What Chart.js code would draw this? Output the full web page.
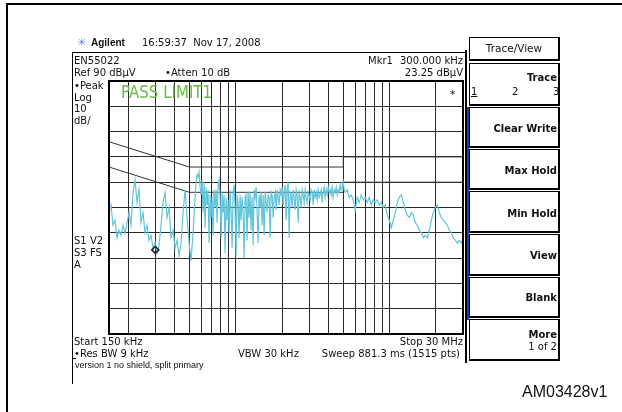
<!DOCTYPE html>
<html>
<head>
<meta charset="utf-8">
<script src="https://cdn.jsdelivr.net/npm/chart.js@4"></script>
<style>
body { margin:0; width:622px; height:412px; position:relative; overflow:hidden; background:#fff; }
#wrap { position:absolute; left:0; top:0; width:622px; height:412px; }
.t { position:absolute; white-space:nowrap; font-family:"DejaVu Sans",sans-serif; font-size:10px; line-height:12px; color:#111; }
.r { text-align:right; }
.ln { position:absolute; background:#000; }
.key { position:absolute; left:469px; width:91px; box-sizing:border-box; border:1px solid #000; border-right-width:2px; border-bottom-width:2px; background:#fff; }
.key .lbl { position:absolute; right:1px; font-family:"DejaVu Sans",sans-serif; font-weight:bold; font-size:10px; line-height:12px; color:#111; }
</style>
</head>
<body>
<div id="wrap"><canvas id="grafico"></canvas></div>

<!-- moldura externa -->
<div class="ln" style="left:6px;top:3px;width:2px;height:409px"></div>
<div class="ln" style="left:6px;top:3px;width:616px;height:2px"></div>

<!-- moldura da tela do analisador -->
<div class="ln" style="left:72px;top:52px;width:394px;height:1px"></div>
<div class="ln" style="left:72px;top:52px;width:1px;height:332px"></div>
<div class="ln" style="left:72px;top:358px;width:4px;height:1px"></div>
<div class="ln" style="left:465px;top:50px;width:2px;height:313px"></div>
<div class="ln" style="left:467px;top:107px;width:2px;height:213px;background:#1f3c9c"></div>

<!-- cabeçalho -->
<div class="t" style="left:77px;top:37px;color:#5b7fd6;font-size:11px">✳</div>
<div class="t" style="left:91px;top:37px;font-family:'Liberation Sans',Arial,sans-serif;font-weight:bold;font-size:10px">Agilent</div>
<div class="t" style="left:142px;top:37px">16:59:37&nbsp; Nov 17, 2008</div>
<div class="t" style="left:74px;top:55px">EN55022</div>
<div class="t" style="left:74px;top:67px">Ref 90 dBµV</div>
<div class="t" style="left:165px;top:67px">•Atten 10 dB</div>
<div class="t" style="left:368px;top:55px">Mkr1</div>
<div class="t r" style="right:159px;top:55px">300.000 kHz</div>
<div class="t r" style="right:159px;top:67px">23.25 dBµV</div>
<div class="t" style="left:74px;top:80px">•Peak</div>
<div class="t" style="left:74px;top:92px">Log</div>
<div class="t" style="left:74px;top:103px">10</div>
<div class="t" style="left:74px;top:115px">dB/</div>
<div class="t" style="left:74px;top:235px">S1 V2</div>
<div class="t" style="left:74px;top:247px">S3 FS</div>
<div class="t" style="left:74px;top:259px">A</div>
<div class="t" style="left:121px;top:82px;font-size:15px;line-height:16px;color:#66bb44;transform:scaleY(1.2);transform-origin:left top">PASS LIMIT1</div>
<div class="t" style="left:450px;top:89px;font-size:11px">*</div>

<!-- rodapé -->
<div class="t" style="left:74px;top:336px">Start 150 kHz</div>
<div class="t r" style="right:159px;top:336px">Stop 30 MHz</div>
<div class="t" style="left:74px;top:348px">•Res BW 9 kHz</div>
<div class="t" style="left:238px;top:348px">VBW 30 kHz</div>
<div class="t r" style="right:162px;top:348px">Sweep 881.3 ms (1515 pts)</div>
<div class="t" style="left:75px;top:359px;font-family:'Liberation Sans',Arial,sans-serif;font-size:9px">version 1 no shield, split primary</div>
<div class="t" style="left:522px;top:383px;font-family:'Liberation Sans',Arial,sans-serif;font-size:16px;line-height:18px">AM03428v1</div>

<!-- teclas -->
<div class="key" style="top:37px;height:24px"><div class="t" style="left:0;right:0;top:4px;text-align:center;font-size:10.5px">Trace/View</div></div>
<div class="key" style="top:63px;height:43px"><div class="lbl" style="top:8px">Trace</div>
  <div class="t" style="left:1px;top:22px;text-decoration:underline">1</div>
  <div class="t" style="left:42px;top:22px">2</div>
  <div class="t" style="left:83px;top:22px">3</div></div>
<div class="key" style="top:107px;height:41px"><div class="lbl" style="top:15px">Clear Write</div></div>
<div class="key" style="top:149px;height:41px"><div class="lbl" style="top:15px">Max Hold</div></div>
<div class="key" style="top:191px;height:42px"><div class="lbl" style="top:16px">Min Hold</div></div>
<div class="key" style="top:234px;height:42px"><div class="lbl" style="top:15px">View</div></div>
<div class="key" style="top:277px;height:41px"><div class="lbl" style="top:14px">Blank</div></div>
<div class="key" style="top:319px;height:42px"><div class="lbl" style="top:9px">More</div>
  <div class="t r" style="right:1px;top:21px">1 of 2</div></div>

<script>
// varredura (MHz) e nível medido (dBµV)
const freqMHz = [
  0.1500,0.1546,0.1592,0.1641,0.1691,0.1742,0.1795,0.1850,0.1906,0.1964,
  0.2024,0.2085,0.2149,0.2214,0.2281,0.2351,0.2422,0.2496,0.2572,0.2650,
  0.2731,0.2814,0.2899,0.2988,0.3078,0.3172,0.3268,0.3368,0.3470,0.3576,
  0.3684,0.3796,0.3912,0.4031,0.4153,0.4280,0.4410,0.4544,0.4682,0.4825,
  0.4971,0.5123,0.5278,
  0.5439,0.5521,0.5604,0.5689,0.5775,0.5862,0.5950,0.6040,0.6131,0.6224,
  0.6318,0.6413,0.6510,0.6608,0.6708,0.6809,0.6912,0.7016,0.7122,0.7230,
  0.7339,0.7450,0.7562,0.7676,0.7792,0.7910,0.8029,0.8150,0.8273,0.8398,
  0.8525,0.8654,0.8784,0.8917,0.9051,0.9188,0.9327,0.9467,0.9610,0.9755,
  0.9903,1.005,1.020,1.035,1.051,1.067,1.083,1.099,1.116,1.133,
  1.150,1.167,1.185,1.203,1.221,1.239,1.258,1.277,1.297,1.316,
  1.336,1.356,1.377,1.398,1.419,1.440,1.462,1.484,1.506,1.529,
  1.552,1.575,1.599,1.623,1.648,1.673,1.698,1.724,1.750,1.776,
  1.803,1.830,1.858,1.886,1.914,1.943,1.973,2.003,2.033,2.063,
  2.094,2.126,2.158,2.191,2.224,2.257,2.291,2.326,2.361,2.397,
  2.433,2.470,2.507,2.545,2.583,2.622,2.662,2.702,2.743,2.784,
  2.826,2.869,2.912,2.956,3.001,3.046,3.092,3.139,3.186,3.234,
  3.283,3.333,3.383,3.434,3.486,3.539,3.592,3.646,3.701,3.757,
  3.814,3.872,3.930,3.989,4.049,4.110,4.172,4.235,4.299,4.364,
  4.430,4.497,4.565,4.634,4.704,4.775,4.847,4.920,4.994,5.069,
  5.146,
  5.303,5.464,5.630,5.801,5.978,6.160,6.347,6.540,6.739,6.944,7.156,
  7.373,7.598,7.829,8.067,8.312,8.565,8.826,9.094,9.371,9.656,
  9.949,10.25,10.56,10.89,11.22,11.56,11.91,12.27,12.65,13.03,
  13.43,13.84,14.26,14.69,15.14,15.60,16.07,16.56,17.07,17.59,
  18.12,18.67,19.24,19.82,20.43,21.05,21.69,22.35,23.03,23.73,
  24.45,25.19,25.96,26.75,27.56,28.40,29.26,30.00
];
const nivelDbuv = [
  38,41,33,35,28,31,29,33,30,34,
  38,33,46,51,42,47,34,38,30,33,
  27,29,24,26,22,25,33,42,46,36,
  40,28,31,24,27,21,26,38,47,36,
  26,19,30,
  44,50,53,52,54,48,45,51,38,50,
  32,48,41,47,26,45,36,44,29,47,
  40,47,34,49,51,44,28,46,38,45,
  22,44,35,43,30,47,38,24,46,49,
  40,21,45,42,28,45,35,44,38,20,
  44,45,27,46,36,46,31,44,25,47,
  44,48,38,26,45,40,46,33,45,29,
  46,42,38,45,44,28,46,45,36,44,
  46,39,47,44,41,47,45,48,41,46,
  49,35,47,50,28,46,45,40,47,44,
  39,47,45,34,46,44,40,47,45,42,
  47,44,42,46,45,43,47,46,41,47,
  44,46,43,47,44,45,47,42,46,48,
  44,47,45,48,46,47,45,48,44,47,
  46,48,45,47,46,49,47,48,50,47,
  46,
  47,44,45,43,39,44,42,45,43,44,42,
  44,41,43,42,43,41,42,40,41,37,
  35,32,35,38,42,44,45,42,39,37,
  36,38,37,34,33,31,30,28,29,28,
  31,35,38,40,41,38,36,35,34,33,
  31,30,28,27,26,27,26,28
];

// limites EN55022 classe B (QP e AV)
const limiteFreq = [0.15, 0.5, 5, 5, 30];
const limiteQP = [66, 56, 56, 60, 60];
const limiteAV = [56, 46, 46, 50, 50];

// marcador 1
const mkrFreq = [0.3];
const mkrNivel = [23.25];

// linhas verticais da grade (MHz)
const gradeFreq = [0.2,0.3,0.4,0.5,0.6,0.7,0.8,0.9,1,2,3,4,5,6,7,8,9,10,20];

const pares = (xs, ys) => xs.map((x, i) => ({ x: x, y: ys[i] }));

// moldura grossa do gráfico
const moldura = {
  id: 'moldura',
  afterDraw(chart) {
    const a = chart.chartArea, c = chart.ctx;
    c.save();
    c.strokeStyle = '#000';
    c.lineWidth = 2;
    c.strokeRect(a.left, a.top, a.right - a.left, a.bottom - a.top);
    c.restore();
  }
};

const ctx = document.getElementById('grafico').getContext('2d');
new Chart(ctx, {
  type: 'line',
  data: {
    datasets: [
      {
        label: 'Marcador',
        data: pares(mkrFreq, mkrNivel),
        showLine: false,
        pointStyle: 'rectRot',
        pointRadius: 3.5,
        pointBorderColor: '#222',
        pointBackgroundColor: 'rgba(255,255,255,0)',
        pointBorderWidth: 1.5,
        order: 0
      },
      {
        label: 'Traço 1',
        data: pares(freqMHz, nivelDbuv),
        borderColor: '#63c5d9',
        borderWidth: 1.2,
        pointRadius: 0,
        tension: 0,
        order: 1
      },
      {
        label: 'Limite QP',
        data: pares(limiteFreq, limiteQP),
        borderColor: '#333',
        borderWidth: 1,
        pointRadius: 0,
        order: 2
      },
      {
        label: 'Limite AV',
        data: pares(limiteFreq, limiteAV),
        borderColor: '#333',
        borderWidth: 1,
        pointRadius: 0,
        order: 2
      }
    ]
  },
  options: {
    responsive: true,
    maintainAspectRatio: false,
    animation: false,
    layout: { padding: { left: 109, top: 81, right: 159, bottom: 78 } },
    plugins: { legend: { display: false }, tooltip: { enabled: false } },
    scales: {
      x: {
        type: 'logarithmic',
        min: 0.15,
        max: 30,
        afterBuildTicks: (axis) => { axis.ticks = gradeFreq.map(v => ({ value: v })); },
        ticks: { display: false },
        grid: { color: '#2a2a2a', lineWidth: 1, drawTicks: false },
        border: { display: false }
      },
      y: {
        min: -10,
        max: 90,
        ticks: { display: false, stepSize: 10 },
        grid: { color: '#2a2a2a', lineWidth: 1, drawTicks: false },
        border: { display: false }
      }
    }
  },
  plugins: [moldura]
});
</script>
</body>
</html>
